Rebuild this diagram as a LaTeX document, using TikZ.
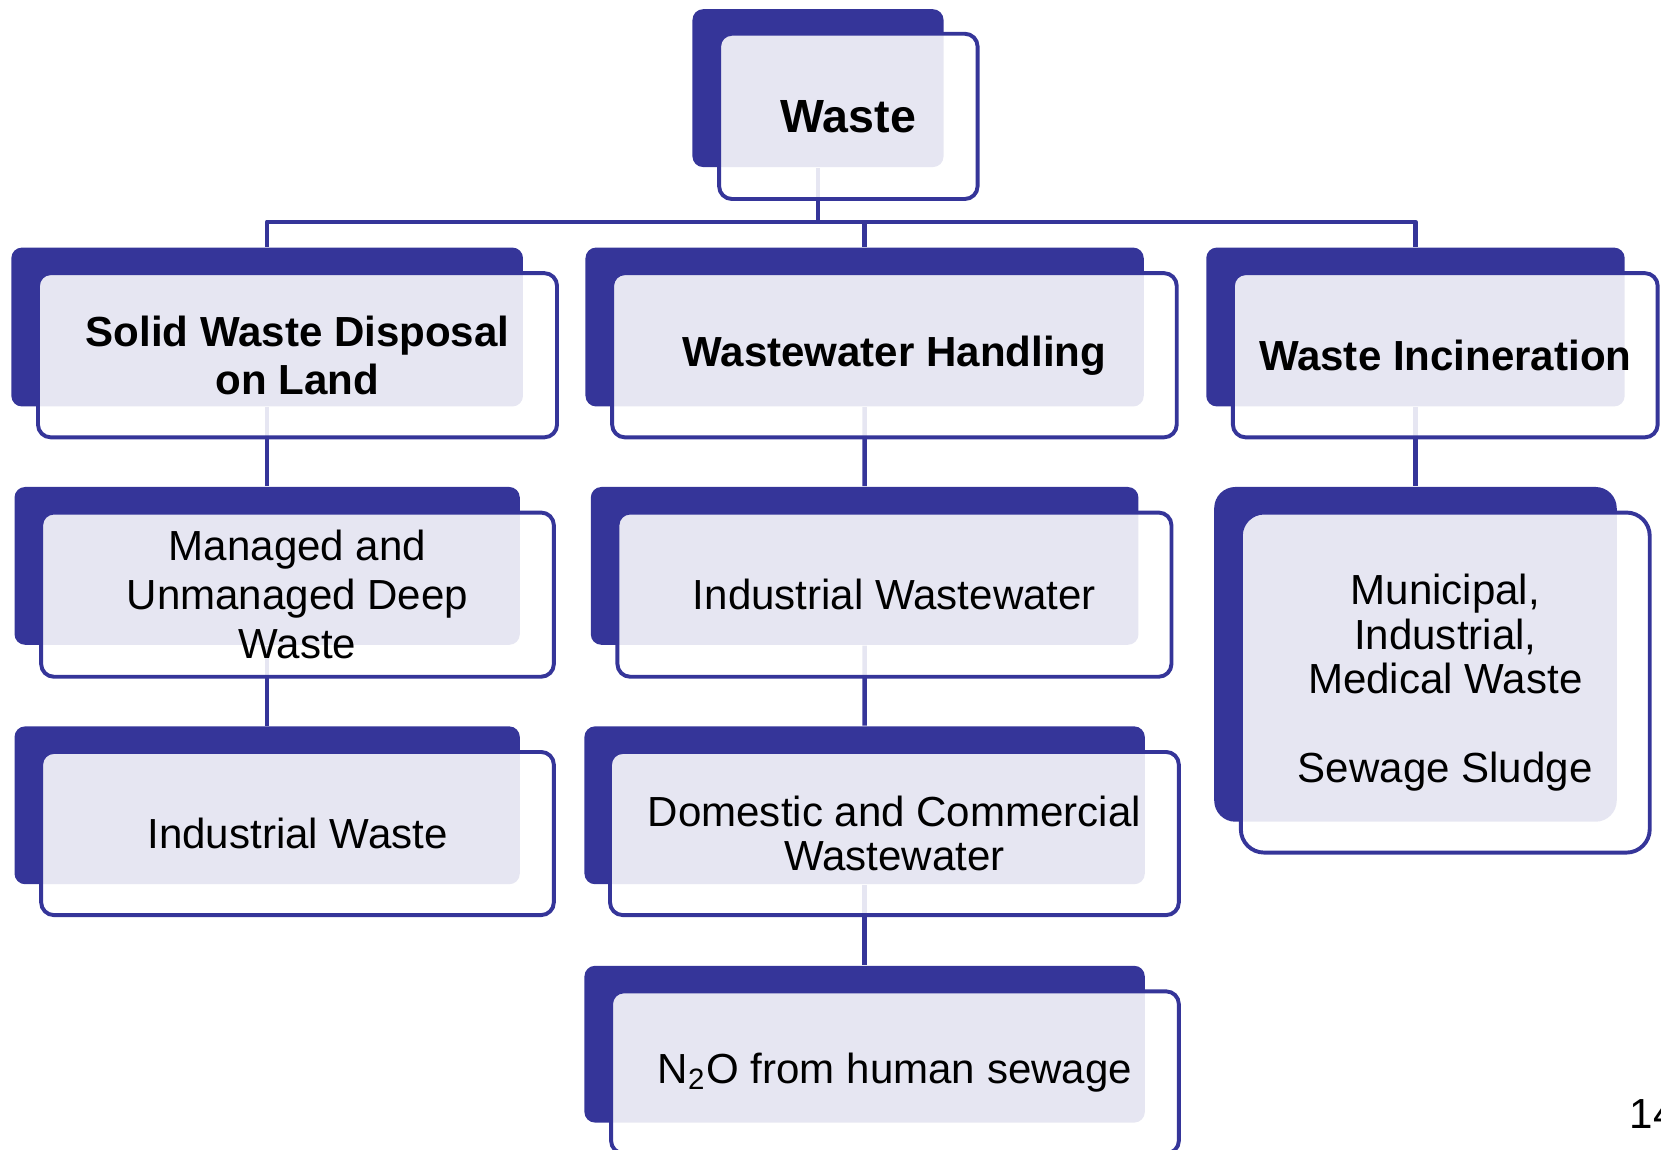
\documentclass[tikz,border=0pt]{standalone}
\usepackage{fontspec}
\setmainfont{Liberation Sans}
\usetikzlibrary{positioning}
\definecolor{wastedark}{RGB}{53,53,153}

\begin{document}
\begin{tikzpicture}[line join=round]
\tikzset{
  back/.style 2 args={fill=wastedark,rounded corners=1mm,inner sep=0pt,anchor=north west,minimum width=#1cm,minimum height=#2cm},
  front/.style 2 args={draw=wastedark,line width=1.05pt,fill=white,fill opacity=0.88,text opacity=1,rounded corners=1.2mm,inner sep=0pt,anchor=north west,align=center,minimum width=#1cm,minimum height=#2cm,font=\fontsize{11.3}{13}\selectfont},
  head/.style={font=\fontsize{11.3}{12.8}\selectfont\bfseries},
  link/.style={draw=wastedark,line width=1.25pt}
}
\useasboundingbox (0,0) rectangle (15.68,-10.85);
\clip (0,0) rectangle (15.68,-10.85);

\node[back={2.37}{1.49}] (wasteBack) at (6.53,-0.08) {};
\node[back={4.83}{1.50}] (solidBack) at (0.10,-2.33) {};
\node[back={5.27}{1.50}] (waterBack) at (5.52,-2.33) {};
\node[back={3.95}{1.50}] (burnBack) at (11.38,-2.33) {};
\node[back={4.77}{1.49}] (deepBack) at (0.13,-4.59) {};
\node[back={5.17}{1.49}] (induBack) at (5.57,-4.59) {};
\node[back={3.80}{3.16},rounded corners=2mm] (muniBack) at (11.455,-4.59) {};
\node[back={4.77}{1.49}] (indwBack) at (0.13,-6.85) {};
\node[back={5.29}{1.49}] (domeBack) at (5.51,-6.85) {};
\node[back={5.29}{1.48}] (sewBack) at (5.51,-9.11) {};

\draw[link] (wasteBack.south) -- ++(0,-0.51) coordinate (bus);
\draw[link] (bus) -| (solidBack.north);
\draw[link] (bus) -| (waterBack.north);
\draw[link] (bus) -| (burnBack.north);
\draw[link] (solidBack.south) -- (deepBack.north);
\draw[link] (deepBack.south) -- (indwBack.north);
\draw[link] (waterBack.south) -- (induBack.north);
\draw[link] (induBack.south) -- (domeBack.north);
\draw[link] (domeBack.south) -- (sewBack.north);
\draw[link] (burnBack.south) -- (muniBack.north);

\node[front={2.44}{1.56},below right=0.22cm and 0.24cm of wasteBack.north west,font=\fontsize{12.5}{14}\selectfont\bfseries] (waste) {Waste};
\node[front={4.90}{1.55},head,below right=0.23cm and 0.24cm of solidBack.north west] (solid) {Solid Waste Disposal\\on Land};
\node[front={5.33}{1.55},head,below right=0.23cm and 0.24cm of waterBack.north west] (water) {Wastewater Handling};
\node[front={4.01}{1.55},head,below right=0.23cm and 0.24cm of burnBack.north west] (burn) {Waste Incineration};
\node[front={4.84}{1.55},below right=0.23cm and 0.24cm of deepBack.north west,font=\fontsize{11.3}{13.1}\selectfont] (deep) {Managed and\\Unmanaged Deep\\Waste};
\node[front={5.23}{1.55},below right=0.23cm and 0.24cm of induBack.north west] (indu) {Industrial Wastewater};
\node[front={3.86}{3.21},rounded corners=2.2mm,below right=0.23cm and 0.24cm of muniBack.north west,font=\fontsize{11.3}{11.9}\selectfont] (muni) {Municipal,\\Industrial,\\Medical Waste\\[11.9pt]Sewage Sludge};
\node[front={4.84}{1.54},below right=0.23cm and 0.24cm of indwBack.north west] (indw) {Industrial Waste};
\node[front={5.37}{1.54},below right=0.23cm and 0.23cm of domeBack.north west,font=\fontsize{11.3}{11.7}\selectfont] (dome) {Domestic and Commercial\\Wastewater};
\node[front={5.36}{1.53},below right=0.23cm and 0.24cm of sewBack.north west] (sew) {N\textsubscript{2}O from human sewage};

\node[anchor=base west,font=\fontsize{11.3}{13}\selectfont] (page) at (15.26,-10.65) {14};
\end{tikzpicture}
\end{document}
